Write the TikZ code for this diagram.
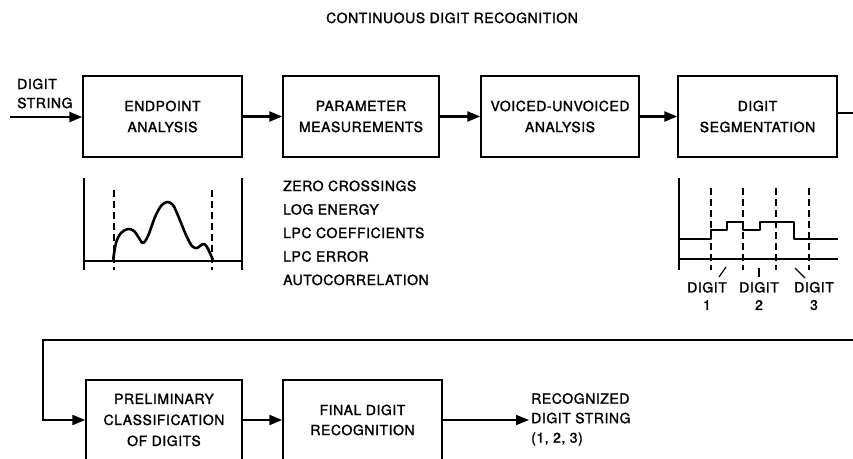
\documentclass[tikz,border=0pt]{standalone}
\usepackage{fontspec}
\setmainfont[LetterSpace=4, FakeBold=1.6]{TeX Gyre Heros}
\usetikzlibrary{arrows.meta}
\tikzset{
  box/.style={draw, line width=1.5pt, minimum height=81pt, inner sep=0pt, align=center},
  lbl/.style={inner sep=0pt, text height=10pt, text depth=0pt},
  arr/.style={line width=2.4pt, -{Triangle[length=13pt,width=10pt]}},
  thinarr/.style={line width=1.5pt, -{Triangle[length=13pt,width=10pt]}},
  wire/.style={line width=1.8pt},
  axis/.style={line width=1.4pt},
  dashline/.style={line width=1.3pt, dash pattern=on 7pt off 4pt},
  sig/.style={line width=2.6pt, line join=round},
}
\begin{document}
\begin{tikzpicture}[x=1pt,y=-1pt,font=\fontsize{14}{21}\selectfont]
\useasboundingbox (0,0) rectangle (853,458);
\clip (0,0) rectangle (853,458);
\fill[white] (0,0) rectangle (853,458);

% title
\node[lbl] (title) at (452,18) {CONTINUOUS DIGIT RECOGNITION};

% top row boxes
\node[box, minimum width=159pt] (b1) at (162.5,116.5) {ENDPOINT\\ANALYSIS};
\node[box, minimum width=156pt] (b2) at (361,116.5) {PARAMETER\\MEASUREMENTS};
\node[box, minimum width=158pt] (b3) at (560,116.5) {VOICED-UNVOICED\\ANALYSIS};
\node[box, minimum width=159pt] (b4) at (757.5,116.5) {DIGIT\\SEGMENTATION};

% input
\node[inner sep=0pt, anchor=west, align=left, font=\fontsize{14}{19}\selectfont] (instr) at (17,93.5) {DIGIT\\STRING};
\coordinate (in) at (10,117);
\draw[arr] (in) -- (in -| b1.west);
\draw[arr] (b1) -- (b2);
\draw[arr] (b2) -- (b3);
\draw[arr] (b3) -- (b4);
\coordinate (o4) at (853,113);
\draw[wire] (o4 -| b4.east) -- (o4);

% parameter list
\node[lbl, anchor=west] (p1) at (283,186) {ZERO CROSSINGS};
\node[lbl, anchor=west] (p2) at (283,209.5) {LOG ENERGY};
\node[lbl, anchor=west] (p3) at (283,233) {LPC COEFFICIENTS};
\node[lbl, anchor=west] (p4) at (283,256.5) {LPC ERROR};
\node[lbl, anchor=west] (p5) at (283,280) {AUTOCORRELATION};

% endpoint plot
\draw[axis] (84,178) -- (84,270);
\draw[axis] (242,178) -- (242,270);
\draw[axis] (84,261) -- (242,261);
\draw[dashline] (114,190) -- (114,270);
\draw[dashline] (212,190) -- (212,270);
\draw[sig] plot[smooth, tension=0.55] coordinates {(113,261) (116,243) (121,233) (128,229) (134,231) (139,238) (143,243) (148,236) (155,217) (161,206) (167,202) (173,205) (179,218) (186,235) (192,246) (197,248) (203,244) (207,247) (213,260)};

% segmentation plot
\draw[axis] (679,178) -- (679,270);
\draw[axis] (679,259) -- (838,259);
\draw[line width=2.4pt] (715,259) -- (742,259);
\draw[line width=2.4pt] (788,259) -- (813,259);
\foreach \x in {711,743,776,809} \draw[dashline] (\x,188) -- (\x,270);
\draw[sig] (679,239) -- (711,239) -- (711,230) -- (727,230) -- (727,222) -- (743,222) -- (743,230) -- (760,230) -- (760,222) -- (794,222) -- (794,239) -- (838,239);
\draw[line width=1.2pt] (719,277) -- (726,267);
\draw[line width=1.2pt] (759,268) -- (759,277);
\draw[line width=1.2pt] (795,268) -- (805,278);
\node[inner sep=0pt, align=center, font=\fontsize{14}{17.5}\selectfont] (d1) at (707,296) {DIGIT\\1};
\node[inner sep=0pt, align=center, font=\fontsize{14}{17.5}\selectfont] (d2) at (759,296) {DIGIT\\2};
\node[inner sep=0pt, align=center, font=\fontsize{14}{17.5}\selectfont] (d3) at (814,296) {DIGIT\\3};

% bottom row
\node[box, minimum width=156pt, minimum height=80pt] (b5) at (164,420) {PRELIMINARY\\CLASSIFICATION\\OF DIGITS};
\node[box, minimum width=159pt, minimum height=80pt, font=\fontsize{14}{20}\selectfont] (b6) at (362.5,420) {FINAL DIGIT\\RECOGNITION};
\coordinate (fbR) at (853,340);
\coordinate (fbL) at (43,340);
\draw[arr] (fbR) -- (fbL) |- (b5.west);
\draw[arr] (b5) -- (b6);
\coordinate (outEnd) at (529,420);
\draw[thinarr] (b6.east |- outEnd) -- (outEnd);
\node[inner sep=0pt, anchor=north west, align=left, font=\fontsize{14}{19.5}\selectfont] (res) at (531,393) {RECOGNIZED\\DIGIT STRING\\(1, 2, 3)};
\end{tikzpicture}
\end{document}
